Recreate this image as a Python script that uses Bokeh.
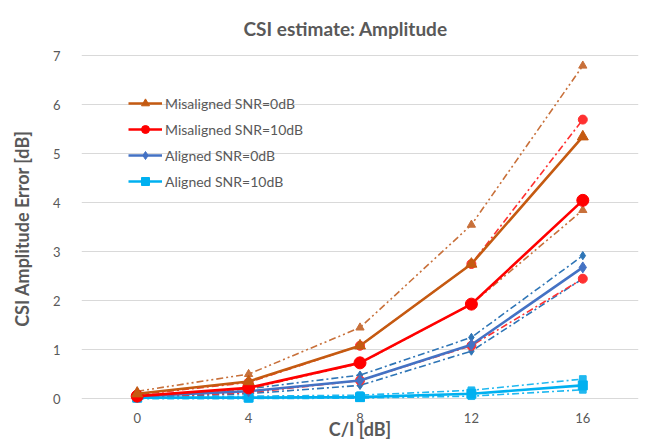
from bokeh.plotting import figure
from bokeh.models import Range1d, Legend, LegendItem, FixedTicker
from bokeh.embed import file_html
from bokeh.resources import INLINE

ci_db = [0, 4, 8, 12, 16]

mis0_mean = [0.10, 0.35, 1.08, 2.75, 5.35]
mis0_upper = [0.15, 0.50, 1.45, 3.55, 6.80]
mis0_lower = [0.05, 0.20, 0.72, 1.93, 3.85]

mis10_mean = [0.05, 0.22, 0.73, 1.93, 4.05]
mis10_upper = [0.08, 0.33, 1.08, 2.75, 5.70]
mis10_lower = [0.03, 0.12, 0.37, 1.08, 2.45]

al0_mean = [0.05, 0.15, 0.37, 1.10, 2.68]
al0_upper = [0.06, 0.20, 0.48, 1.25, 2.92]
al0_lower = [0.03, 0.10, 0.27, 0.97, 2.45]

al10_mean = [0.02, 0.02, 0.03, 0.10, 0.27]
al10_upper = [0.04, 0.05, 0.07, 0.17, 0.40]
al10_lower = [0.00, 0.00, 0.01, 0.05, 0.18]

series_names = ["Misaligned SNR=0dB", "Misaligned SNR=10dB",
                "Aligned SNR=0dB", "Aligned SNR=10dB"]

GREY = "#595959"
FONT = "Lato"

p = figure(width=661, height=445, output_backend="svg", toolbar_location=None,
           x_range=Range1d(-2, 18), y_range=Range1d(-0.1, 7.05),
           min_border_left=81, min_border_right=23, min_border_top=53,
           min_border_bottom=42)
p.outline_line_color = None
p.background_fill_color = "white"
p.border_fill_color = "white"

p.title.text = "CSI estimate: Amplitude"
p.title.align = "left"
p.title.offset = 162
p.title.text_font = FONT
p.title.text_font_size = "19px"
p.title.text_font_style = "bold"
p.title.text_color = GREY
p.title.standoff = 28

p.xgrid.grid_line_color = None
p.ygrid.grid_line_color = "#D9D9D9"
p.ygrid.grid_line_width = 1

p.xaxis.ticker = FixedTicker(ticks=ci_db)
p.yaxis.ticker = FixedTicker(ticks=[0, 1, 2, 3, 4, 5, 6, 7])
for ax in (p.xaxis, p.yaxis):
    ax.axis_line_color = None
    ax.major_tick_line_color = None
    ax.minor_tick_line_color = None
    ax.major_label_text_font = FONT
    ax.major_label_text_font_size = "13px"
    ax.major_label_text_color = GREY
    ax.axis_label_text_font = FONT
    ax.axis_label_text_font_size = "18px"
    ax.axis_label_text_font_style = "bold"
    ax.axis_label_text_color = GREY
p.xaxis.axis_label = "C/I [dB]"
p.yaxis.axis_label = "CSI Amplitude Error [dB]"
p.yaxis.major_label_standoff = 15
p.yaxis.axis_label_standoff = 17
p.xaxis.major_label_standoff = 3
p.xaxis.axis_label_standoff = -8

specs = [
    (mis0_mean, mis0_upper, mis0_lower, "#C55A11", "triangle", 11, "7 3 2 3 2 3"),
    (mis10_mean, mis10_upper, mis10_lower, "#FF0000", "circle", 12, "7 3 2 3"),
    (al0_mean, al0_upper, al0_lower, "#4472C4", "diamond", 11, "7 3 2 3"),
    (al10_mean, al10_upper, al10_lower, "#00B0F0", "square", 9, "7 3 2 3"),
]
bound_colors = ["#C8703A", "#FF3030", "#2E75B6", "#20B8F0"]

# bounds first
for (mean, up, lo, col, mk, sz, dash), bcol in zip(reversed(specs), reversed(bound_colors)):
    for arr in (up, lo):
        p.line(ci_db, arr, line_color=bcol, line_width=1.6, line_dash=dash)
        p.scatter(ci_db, arr, marker=mk, size=sz * 0.75, fill_color=bcol,
                  line_color=bcol)

items = []
for (mean, up, lo, col, mk, sz, dash), name in zip(reversed(specs), reversed(series_names)):
    l = p.line(ci_db, mean, line_color=col, line_width=2.6)
    s = p.scatter(ci_db, mean, marker=mk, size=sz, fill_color=col, line_color=col)
    items.append(LegendItem(label=name, renderers=[l, s]))
items = list(reversed(items))

legend = Legend(items=items, location=(47, 212), orientation="vertical",
                background_fill_alpha=0, border_line_color=None,
                padding=0, margin=0, spacing=6,
                glyph_width=34, glyph_height=20, label_height=20,
                label_standoff=3, label_text_font=FONT,
                label_text_font_size="14px", label_text_color=GREY)
p.add_layout(legend, "center")

open("out.html", "w").write(file_html(p, INLINE))
